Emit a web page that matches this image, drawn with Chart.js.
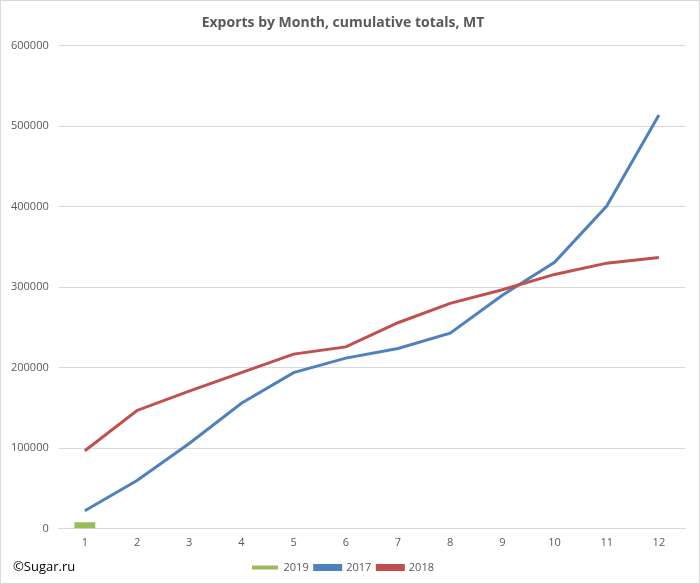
<!DOCTYPE html>
<html>
<head>
<meta charset="utf-8">
<script src="https://cdn.jsdelivr.net/npm/chart.js@4"></script>
<style>
  body { margin: 0; background: #fff; }
  #wrap { position: relative; width: 698px; height: 582px; border: 1px solid #d9d9d9; }
  #copy { position: absolute; left: 12px; top: 556px; font: 13px "Open Sans", sans-serif; color: #000; }
</style>
</head>
<body>
<div id="wrap">
  <canvas id="chart" width="698" height="582"></canvas>
  <div id="copy">©Sugar.ru</div>
</div>
<script>
// Chart data
const months = ["1", "2", "3", "4", "5", "6", "7", "8", "9", "10", "11", "12"];
const exports2019 = [8000];
const exports2017 = [22500, 60000, 106000, 156000, 194000, 212000, 224000, 243000, 290000, 331000, 401000, 514000];
const exports2018 = [97000, 147000, 171000, 194000, 217000, 226000, 256000, 280000, 297000, 316000, 330000, 337000];

const ctx = document.getElementById("chart").getContext("2d");
Chart.defaults.font.family = "'Open Sans', sans-serif";
Chart.defaults.color = "#595959";

new Chart(ctx, {
  type: "bar",
  data: {
    labels: months,
    datasets: [
      {
        label: "2019",
        data: exports2019,
        backgroundColor: "#9bbb59",
        categoryPercentage: 0.4,
        barPercentage: 1,
        order: 3,
      },
      {
        type: "line",
        label: "2017",
        data: exports2017,
        borderColor: "#4f81bd",
        backgroundColor: "#4f81bd",
        borderWidth: 3,
        pointRadius: 0,
        tension: 0,
        order: 2,
      },
      {
        type: "line",
        label: "2018",
        data: exports2018,
        borderColor: "#c0504d",
        backgroundColor: "#c0504d",
        borderWidth: 3,
        pointRadius: 0,
        tension: 0,
        order: 1,
      },
    ],
  },
  options: {
    responsive: false,
    animation: false,
    layout: { padding: { left: 0, right: 14, top: 4, bottom: 0 } },
    scales: {
      y: {
        min: 0,
        max: 600000,
        ticks: { stepSize: 100000, font: { size: 11 }, padding: 10, callback: (v) => String(v) },
        grid: { color: "#d9d9d9", drawTicks: false },
        border: { display: false },
      },
      x: {
        ticks: { font: { size: 11 }, padding: 7 },
        grid: { display: false, drawTicks: false },
        border: { color: "#d9d9d9" },
      },
    },
    plugins: {
      title: {
        display: true,
        text: "Exports by Month, cumulative totals, MT",
        color: "#595959",
        font: { size: 14, weight: "bold" },
        padding: { top: 10, bottom: 14 },
      },
      legend: {
        position: "bottom",
        labels: {
          boxWidth: 26, boxHeight: 4, font: { size: 11 }, padding: 6,
          sort: (a, b) => a.datasetIndex - b.datasetIndex,
        },
      },
      tooltip: { enabled: false },
    },
  },
});
</script>
</body>
</html>
